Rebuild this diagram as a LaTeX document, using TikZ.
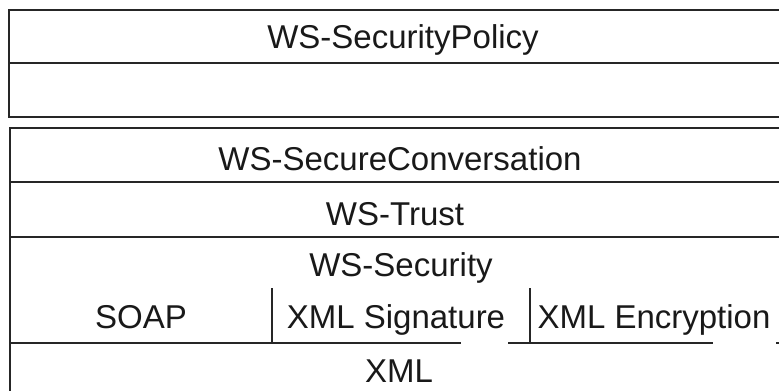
\documentclass[tikz,border=0pt]{standalone}
\usepackage{fontspec}
\setmainfont{Liberation Sans}
\begin{document}
\begin{tikzpicture}[x=1pt,y=-1pt,
  rule/.style={line width=2.2pt, draw=black!85},
  lbl/.style={anchor=base, inner sep=0pt, font=\fontsize{33}{40}\selectfont, text=black!90}]
\useasboundingbox (0,0) rectangle (779,391);
\fill[white] (0,0) rectangle (779,391);
% upper box
\draw[rule] (779,10) -- (9,10) -- (9,117) -- (779,117);
\draw[rule] (9,63) -- (779,63);
% lower stack
\draw[rule] (779,128) -- (10,128) -- (10,391);
\draw[rule] (10,182) -- (779,182);
\draw[rule] (10,237) -- (779,237);
\draw[rule] (10,343) -- (461,343);
\draw[rule] (508,343) -- (713,343);
\draw[rule] (776,343) -- (779,343);
\draw[rule] (272,288) -- (272,343);
\draw[rule] (530,288) -- (530,343);
% labels
\node[lbl] (policy) at (403,48) {WS-SecurityPolicy};
\node[lbl] (conv) at (400,170) {WS-SecureConversation};
\node[lbl] (trust) at (395,225) {WS-Trust};
\node[lbl] (sec) at (401,276) {WS-Security};
\node[lbl] (soap) at (141,328) {SOAP};
\node[lbl] (sig) at (396,328) {XML Signature};
\node[lbl] (enc) at (654,328) {XML Encryption};
\node[lbl] (xml) at (399,382) {XML};
\end{tikzpicture}
\end{document}
